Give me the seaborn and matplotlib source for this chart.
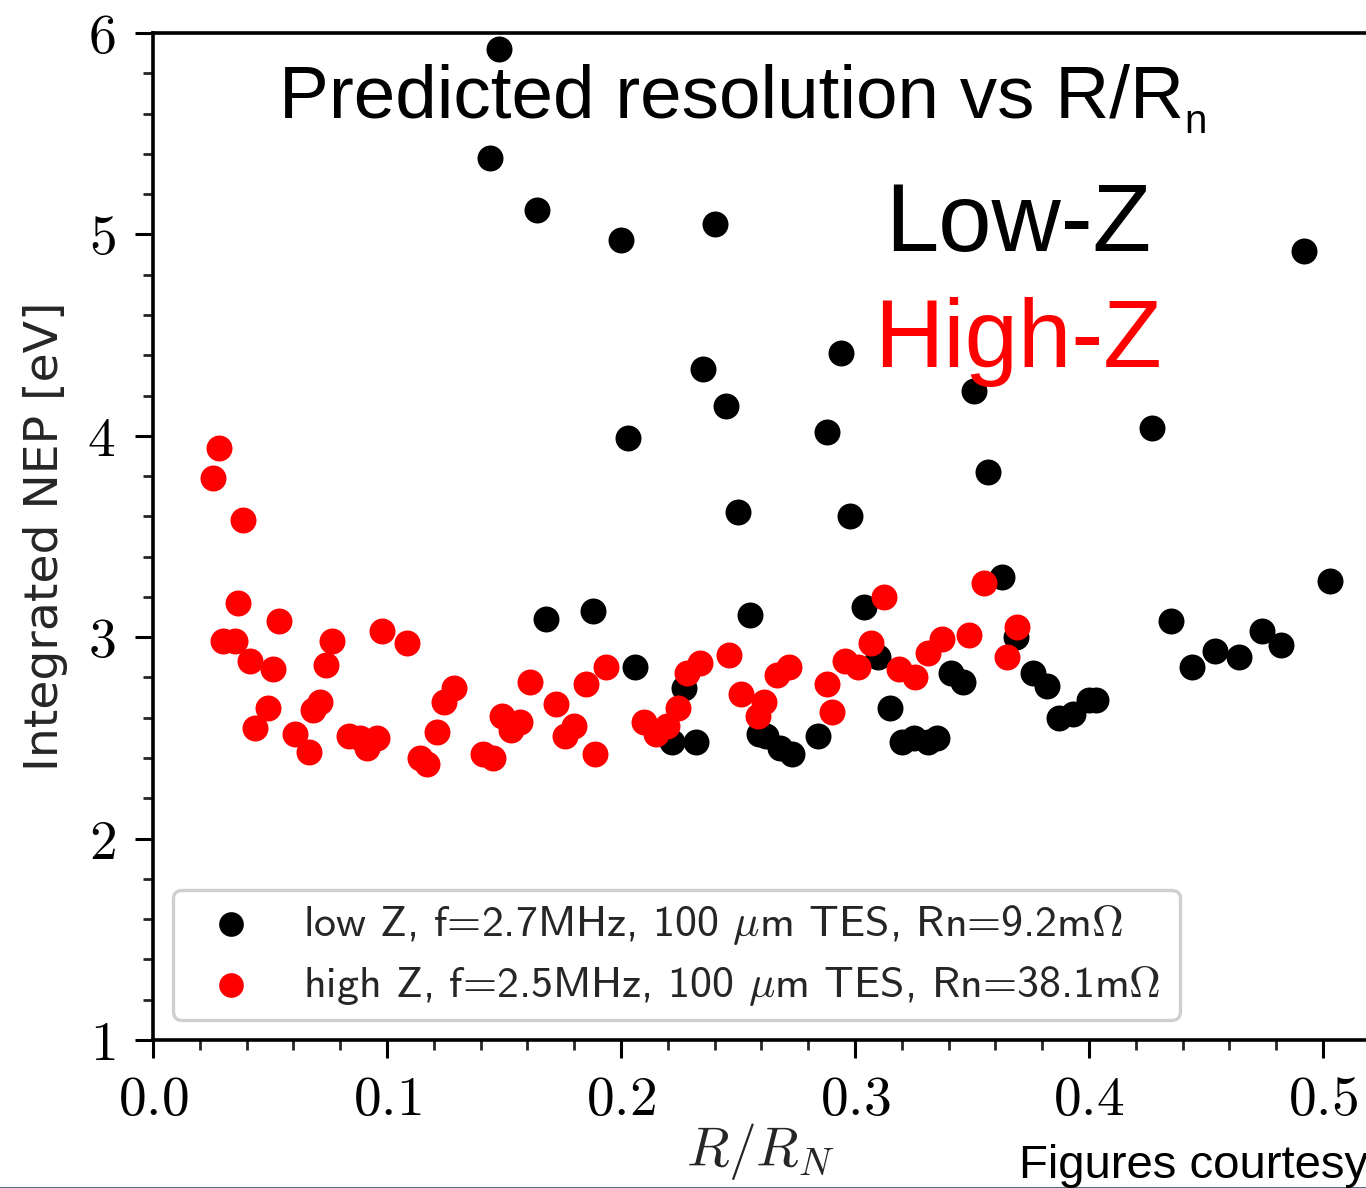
import numpy as np
import pandas as pd
import matplotlib
matplotlib.use("Agg")
import matplotlib.pyplot as plt
import seaborn as sns
from matplotlib.ticker import FixedLocator, FixedFormatter, MultipleLocator
from matplotlib.lines import Line2D

# ---------------- data ----------------
low_x = [0.148, 0.144, 0.164, 0.200, 0.240, 0.492, 0.294, 0.235, 0.245, 0.203,
         0.288, 0.351, 0.427, 0.357, 0.250, 0.298, 0.363, 0.503, 0.168, 0.188,
         0.255, 0.304, 0.206, 0.435, 0.444, 0.454, 0.464, 0.474, 0.482, 0.369,
         0.376, 0.382, 0.387, 0.393, 0.400, 0.403, 0.227, 0.222, 0.232, 0.259,
         0.262, 0.268, 0.273, 0.284, 0.310, 0.315, 0.320, 0.325, 0.331, 0.335,
         0.341, 0.346]
low_y = [5.92, 5.38, 5.12, 4.97, 5.05, 4.92, 4.41, 4.33, 4.15, 3.99,
         4.02, 4.22, 4.04, 3.82, 3.62, 3.60, 3.30, 3.28, 3.09, 3.13,
         3.11, 3.15, 2.85, 3.08, 2.85, 2.93, 2.90, 3.03, 2.96, 3.00,
         2.82, 2.76, 2.60, 2.62, 2.69, 2.69, 2.75, 2.48, 2.48, 2.52,
         2.51, 2.45, 2.42, 2.51, 2.90, 2.65, 2.48, 2.50, 2.48, 2.50,
         2.82, 2.78]

high_x = [0.0282, 0.0256, 0.0385, 0.0365, 0.0538, 0.0300, 0.0350, 0.0415, 0.0513, 0.0491,
          0.0436, 0.0607, 0.0667, 0.0765, 0.0739, 0.0714, 0.0684, 0.0838, 0.0885, 0.0915,
          0.0957, 0.0979, 0.1085, 0.1141, 0.1171, 0.1214, 0.1244, 0.1286, 0.1410, 0.1453,
          0.1491, 0.1530, 0.1568, 0.1611, 0.1722, 0.1760, 0.1800, 0.1850, 0.1889, 0.1936,
          0.2098, 0.2150, 0.2197, 0.2244, 0.2282, 0.2338, 0.2462, 0.2513, 0.2611, 0.2585,
          0.2667, 0.2718, 0.2880, 0.2902, 0.2957, 0.3013, 0.3068, 0.3124, 0.3188, 0.3256,
          0.3312, 0.3372, 0.3487, 0.3551, 0.3692, 0.3650]
high_y = [3.94, 3.79, 3.58, 3.17, 3.08, 2.98, 2.98, 2.88, 2.84, 2.65,
          2.55, 2.52, 2.43, 2.98, 2.86, 2.68, 2.64, 2.51, 2.50, 2.45,
          2.50, 3.03, 2.97, 2.40, 2.37, 2.53, 2.68, 2.75, 2.42, 2.40,
          2.61, 2.54, 2.58, 2.78, 2.67, 2.51, 2.56, 2.77, 2.42, 2.85,
          2.58, 2.52, 2.56, 2.65, 2.82, 2.87, 2.91, 2.72, 2.68, 2.61,
          2.81, 2.85, 2.77, 2.63, 2.88, 2.85, 2.97, 3.20, 2.84, 2.80,
          2.92, 2.99, 3.01, 3.27, 3.05, 2.90]

low_label = r"low Z, f=2.7MHz, 100 $\mu$m TES, Rn=9.2m$\Omega$"
high_label = r"high Z, f=2.5MHz, 100 $\mu$m TES, Rn=38.1m$\Omega$"

x_ticks = [0.0, 0.1, 0.2, 0.3, 0.4, 0.5]
x_tick_labels = ["$0.0$", "$0.1$", "$0.2$", "$0.3$", "$0.4$", "$0.5$"]
y_ticks = [1, 2, 3, 4, 5, 6]
y_tick_labels = ["$1$", "$2$", "$3$", "$4$", "$5$", "$6$"]

# ---------------- style ----------------
sns.set_theme(style="ticks")
plt.rcParams['font.family'] = ['Liberation Sans', 'DejaVu Sans']
plt.rcParams['mathtext.fontset'] = 'cm'

W, H = 1366, 1188
fig = plt.figure(figsize=(W / 100, H / 100), dpi=100, facecolor='white')

ax_left, ax_right, ax_top, ax_bottom = 153, 1440, 33, 1040
ax = fig.add_axes([ax_left / W, 1 - ax_bottom / H,
                   (ax_right - ax_left) / W, (ax_bottom - ax_top) / H])
ax.set_facecolor('white')

df_low = pd.DataFrame({"x": low_x, "y": low_y})
df_high = pd.DataFrame({"x": high_x, "y": high_y})

sns.scatterplot(data=df_low, x="x", y="y", color="black", s=350, linewidth=0,
                label=low_label, ax=ax, zorder=3)
sns.scatterplot(data=df_high, x="x", y="y", color="#ff0000", s=350, linewidth=0,
                label=high_label, ax=ax, zorder=4)

ax.set_xlim(0, 0.55)
ax.set_ylim(1, 6)

ax.xaxis.set_major_locator(FixedLocator(x_ticks))
ax.xaxis.set_major_formatter(FixedFormatter(x_tick_labels))
ax.xaxis.set_minor_locator(MultipleLocator(0.02))
ax.yaxis.set_major_locator(FixedLocator(y_ticks))
ax.yaxis.set_major_formatter(FixedFormatter(y_tick_labels))
ax.yaxis.set_minor_locator(MultipleLocator(0.2))

ax.tick_params(axis='both', which='major', direction='out', length=13, width=2.2,
               labelsize=40, colors='black')
ax.tick_params(axis='x', which='major', pad=12)
ax.tick_params(axis='y', which='major', pad=14)
ax.tick_params(axis='both', which='minor', direction='out', length=7, width=2.0)

for side in ['left', 'bottom', 'top', 'right']:
    ax.spines[side].set_linewidth(2.6)
    ax.spines[side].set_color('black')

ax.set_xlabel(r"$R/R_N$", fontsize=40)
ax.xaxis.set_label_coords((760 - ax_left) / (ax_right - ax_left),
                          -(1121 - ax_bottom) / (ax_bottom - ax_top))
ax.set_ylabel("Integrated NEP [eV]", fontsize=34, family='DejaVu Sans')
ax.yaxis.set_label_coords(-(153 - 68) / (ax_right - ax_left), 0.5)

# legend
leg_w = (1180 - 173) / (ax_right - ax_left)
leg_h = (1020 - 890) / (ax_bottom - ax_top)
leg = ax.legend(loc='lower left',
                bbox_to_anchor=((173 - ax_left) / (ax_right - ax_left),
                                (ax_bottom - 1020) / (ax_bottom - ax_top),
                                leg_w, leg_h),
                mode='expand', borderaxespad=0,
                prop={'family': 'cmss10', 'size': 31.6},
                borderpad=0.28, handlelength=2.1, handletextpad=0.58,
                labelspacing=0.36, markerscale=0.95,
                frameon=True, fancybox=True, framealpha=1)
leg.get_frame().set_edgecolor('#cfcfcf')
leg.get_frame().set_linewidth(2.4)
leg.set_zorder(5)

# annotations
fig.text(279 / W, 1 - 117 / H, "Predicted resolution vs R/R", fontsize=53.8,
         color='black', ha='left', va='baseline', family='Liberation Sans')
fig.text(1184 / W, 1 - 133 / H, "n", fontsize=29, color='black',
         ha='left', va='baseline', family='Liberation Sans')
fig.text(885 / W, 1 - 251 / H, "Low-Z", fontsize=69, color='black',
         ha='left', va='baseline', family='Liberation Sans')
fig.text(874 / W, 1 - 367 / H, "High-Z", fontsize=69, color='#ff0000',
         ha='left', va='baseline', family='Liberation Sans')
fig.text(1019 / W, 1 - 1178 / H, "Figures courtesy", fontsize=34,
         color='black', ha='left', va='baseline', family='Liberation Sans')

fig.add_artist(Line2D([0, 1], [0.5 / H, 0.5 / H], transform=fig.transFigure,
                      color='#34506b', lw=1.2))

fig.savefig("out.png", dpi=100, facecolor='white')
